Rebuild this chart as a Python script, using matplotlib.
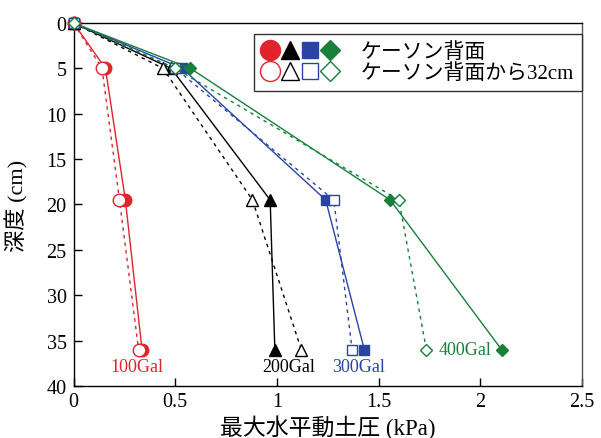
import matplotlib
matplotlib.use('Agg')
import matplotlib.pyplot as plt
from matplotlib.lines import Line2D
from matplotlib.legend_handler import HandlerTuple

SERIF = ['Liberation Serif', 'Noto Sans CJK JP']
plt.rcParams['font.family'] = SERIF
plt.rcParams['font.size'] = 13

# depth (cm)
depth = [0, 5, 19.5, 36]

# max horizontal dynamic earth pressure (kPa)
# back face of caisson (filled) / 32cm from back face (open)
p100_back = [0, 0.157, 0.255, 0.337]
p100_32 = [0, 0.14, 0.226, 0.32]
p200_back = [0, 0.48, 0.967, 0.99]
p200_32 = [0, 0.44, 0.88, 1.12]
p300_back = [0, 0.535, 1.24, 1.43]
p300_32 = [0, 0.50, 1.28, 1.37]
p400_back = [0, 0.575, 1.557, 2.105]
p400_32 = [0, 0.50, 1.60, 1.735]

series = [
    ('100Gal', '#e0242e', 'o', p100_back, p100_32),
    ('200Gal', '#000000', '^', p200_back, p200_32),
    ('300Gal', '#2a44a6', 's', p300_back, p300_32),
    ('400Gal', '#17803a', 'D', p400_back, p400_32),
]
label_pos = {'100Gal': (0.31, 37.8), '200Gal': (1.06, 37.8),
             '300Gal': (1.40, 37.8), '400Gal': (1.925, 36)}
msize = {'o': 9, '^': 8.5, 's': 7.2, 'D': 6.5}

fig = plt.figure(figsize=(6.01, 4.39), dpi=100)
ax = fig.add_axes([0.1223, 0.1185, 0.846, 0.8268])

for name, c, m, back, off in series:
    ax.plot(back, depth, color=c, lw=1, marker=m, ms=msize[m],
            mfc=c, mec=c, zorder=3, clip_on=False)
    ax.plot(off, depth, color=c, lw=1, ls=(0, (2.5, 3)), marker=m, ms=msize[m],
            mfc='white', mec=c, mew=1, zorder=4, clip_on=False)
    lx, ly = label_pos[name]
    ax.text(lx, ly, name, color=c, fontsize=13, ha='center', va='center')

ax.set_xlim(0, 2.5)
ax.set_ylim(40, 0)
ax.set_xticks([0, 0.5, 1, 1.5, 2, 2.5])
ax.set_xticklabels(['0', '0.5', '1', '1.5', '2', '2.5'])
ax.set_yticks(range(0, 41, 5))
ax.set_yticklabels([str(v) for v in range(0, 41, 5)])
ax.tick_params(direction='in', length=6, width=1, labelsize=14.5)
ax.tick_params(axis='y', pad=5)
ax.tick_params(axis='x', pad=4)
for lab in ax.get_xticklabels() + ax.get_yticklabels():
    lab.set_family(SERIF)
ax.set_xlabel('最大水平動土圧 (kPa)', fontsize=16.5, labelpad=3)
ax.set_ylabel('深度 (cm)', fontsize=16)
ax.yaxis.set_label_coords(-0.088, 0.5)
for s in ax.spines.values():
    s.set_linewidth(1)
ax.spines['right'].set_color('#555555')

h_back = tuple(Line2D([], [], ls='none', marker=m, ms=msize[m] * 1.6,
                      mfc=c, mec=c) for _, c, m, _, _ in series)
h_off = tuple(Line2D([], [], ls='none', marker=m, ms=msize[m] * 1.6,
                     mfc='white', mec=c) for _, c, m, _, _ in series)
leg = ax.legend([h_back, h_off], ['ケーソン背面', 'ケーソン背面から32cm'],
                handler_map={tuple: HandlerTuple(ndivide=None, pad=0.2)},
                handlelength=3.6, handletextpad=1.1, labelspacing=0.05,
                loc='upper right', bbox_to_anchor=(1.0, 0.97),
                borderaxespad=0, fancybox=False, edgecolor='#333333',
                framealpha=1, fontsize=15, borderpad=0.4)
leg.get_frame().set_linewidth(1)

fig.savefig('out.png', dpi=100)
